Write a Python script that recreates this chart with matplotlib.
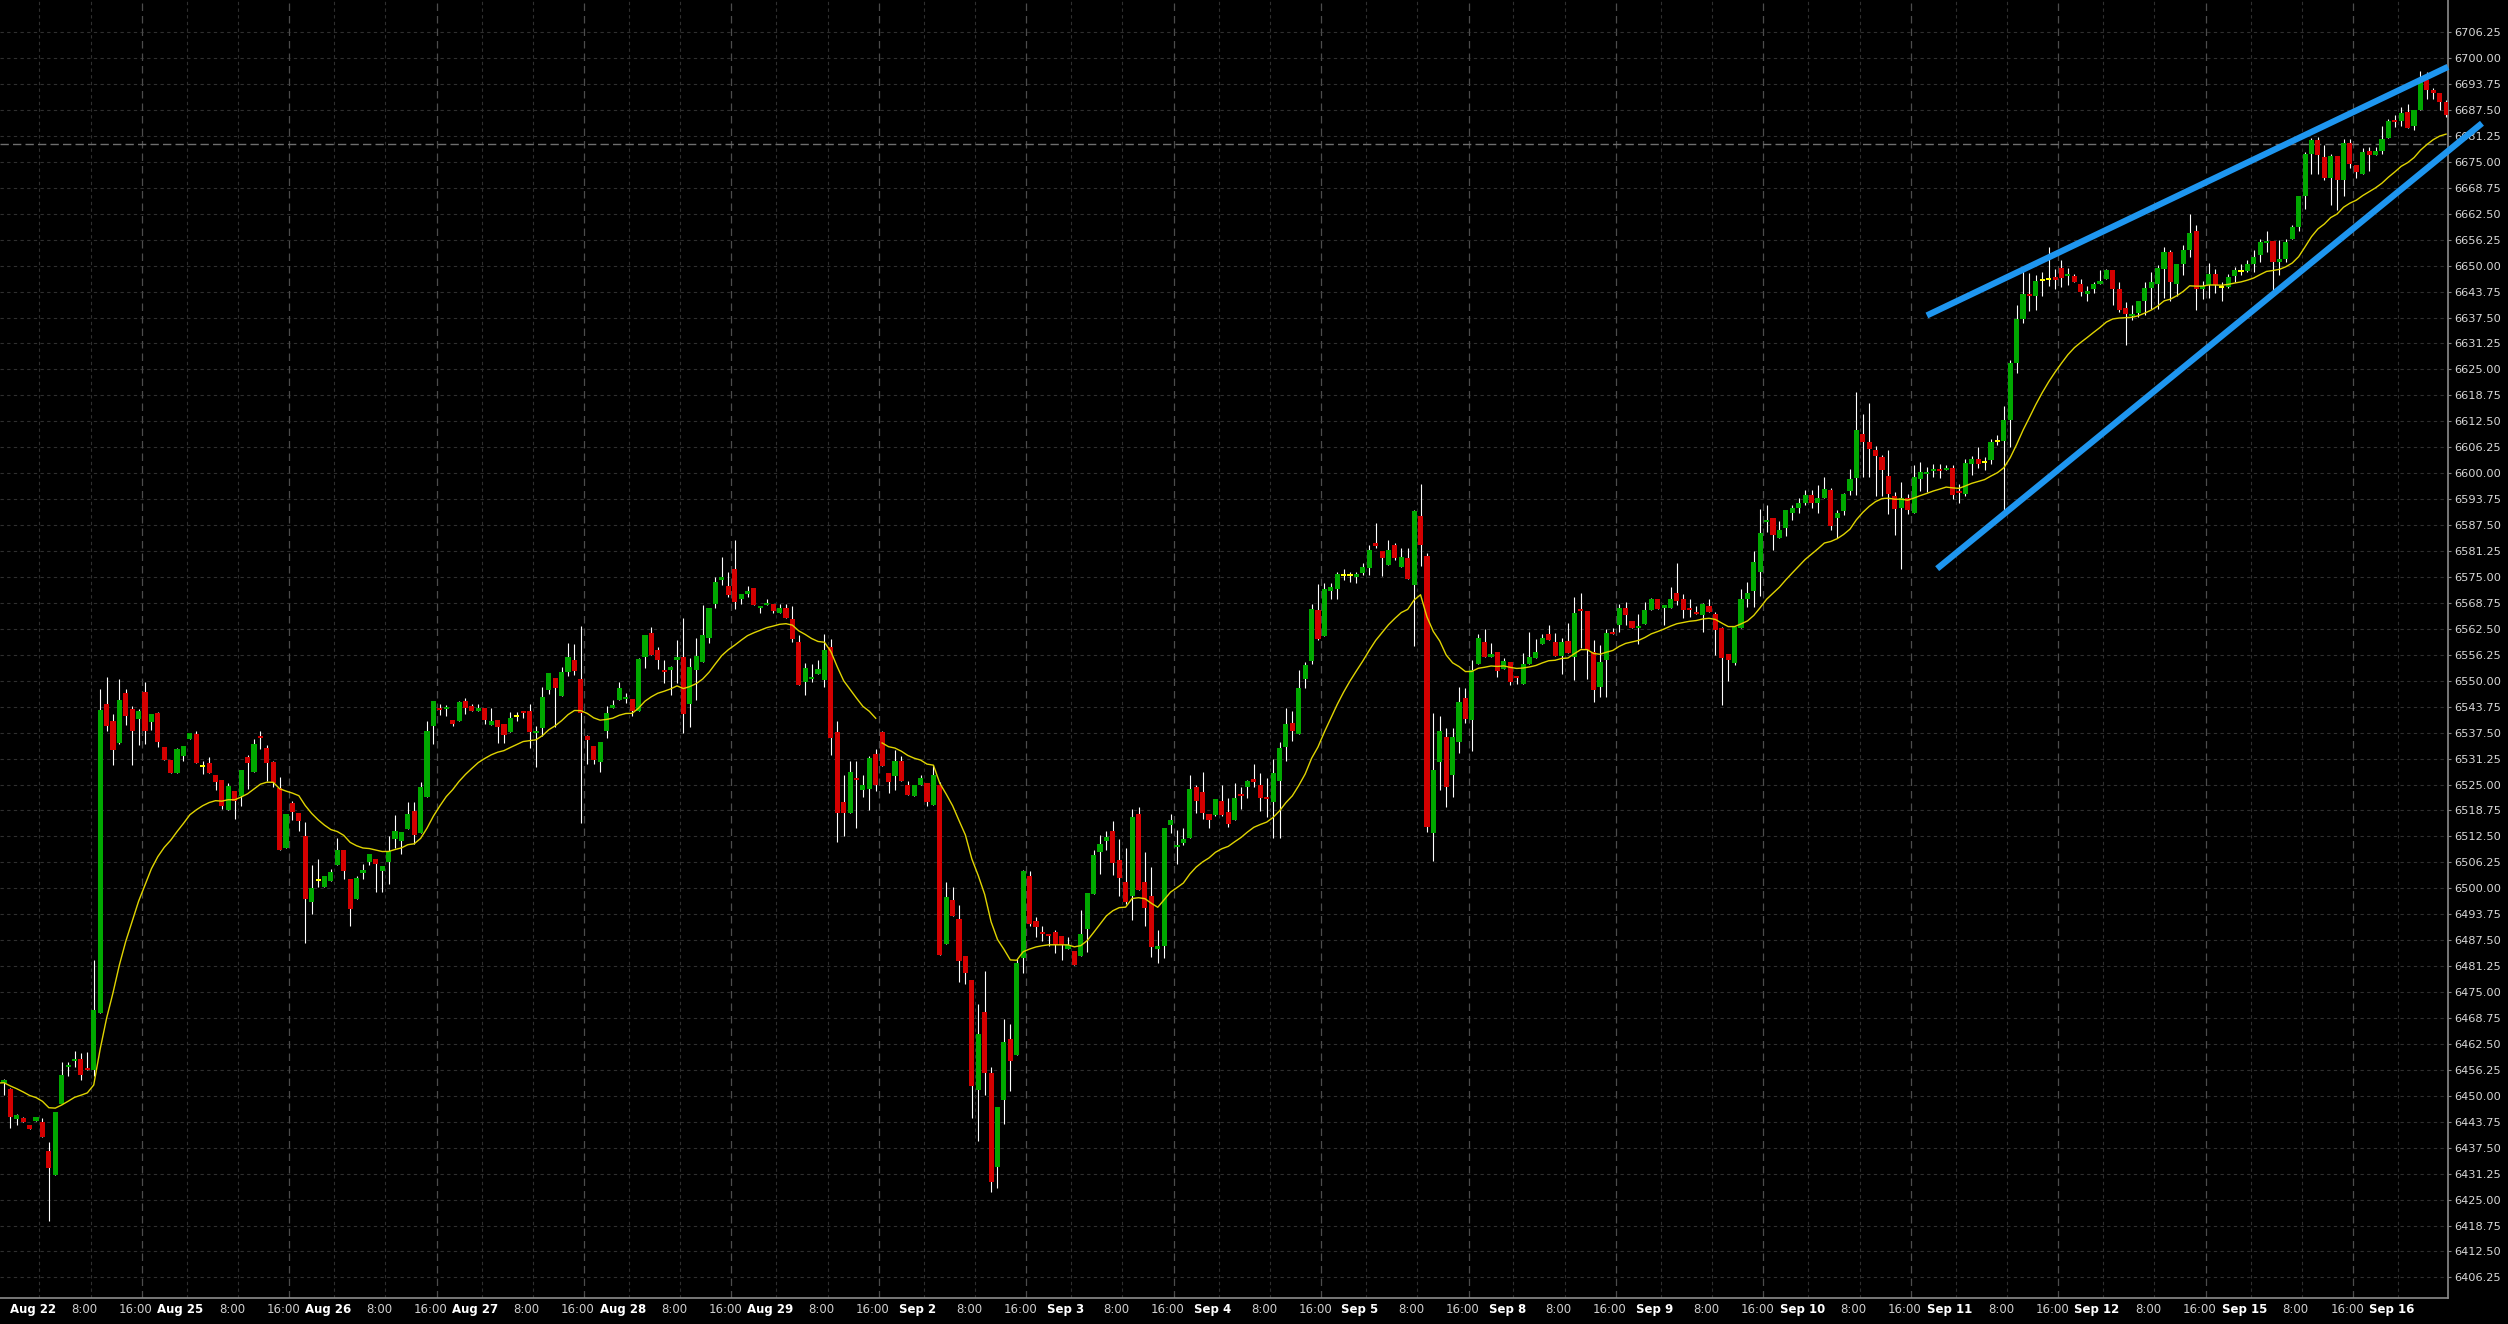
import numpy as np
import pandas as pd
import matplotlib
matplotlib.use("Agg")
import matplotlib.pyplot as plt
import matplotlib.transforms as mtransforms

# Hourly candles, Aug 21 (last bars) .. Sep 16
days = ["Aug 22", "Aug 25", "Aug 26", "Aug 27", "Aug 28", "Aug 29", "Sep 2", "Sep 3",
        "Sep 4", "Sep 5", "Sep 8", "Sep 9", "Sep 10", "Sep 11", "Sep 12", "Sep 15", "Sep 16"]
hour_labels = ["8:00", "16:00"]

opens = [
    6444.5, 6453.0, 6451.7, 6444.5, 6444.7, 6442.9, 6444.0, 6443.8, 6436.7, 6431.0,
    6448.0, 6456.9, 6458.3, 6458.9, 6456.5, 6456.1, 6469.9, 6544.5, 6540.4, 6535.0,
    6547.1, 6543.3, 6540.7, 6547.4, 6540.0, 6542.3, 6534.1, 6531.0, 6527.8, 6531.9,
    6535.9, 6537.2, 6529.4, 6530.3, 6527.4, 6526.2, 6518.8, 6523.5, 6522.3, 6531.7,
    6528.1, 6536.7, 6533.9, 6530.4, 6524.1, 6509.6, 6520.6, 6518.2, 6512.7, 6496.6,
    6501.9, 6500.4, 6501.8, 6505.7, 6509.2, 6502.2, 6497.4, 6503.7, 6506.3, 6507.1,
    6504.1, 6506.4, 6511.8, 6511.4, 6514.3, 6518.5, 6513.3, 6521.9, 6539.2, 6543.4,
    6543.2, 6540.6, 6540.3, 6545.0, 6544.0, 6542.7, 6543.4, 6539.4, 6540.6, 6539.5,
    6537.6, 6541.4, 6542.6, 6542.6, 6537.3, 6538.7, 6547.8, 6550.7, 6546.3, 6552.2,
    6555.0, 6550.3, 6536.8, 6534.3, 6530.4, 6538.0, 6543.4, 6545.4, 6545.6, 6545.6,
    6542.6, 6555.6, 6561.5, 6557.3, 6552.6, 6552.5, 6555.0, 6555.6, 6544.4, 6552.6,
    6554.5, 6560.3, 6568.5, 6574.3, 6572.9, 6576.8, 6569.7, 6571.0, 6572.4, 6567.6,
    6568.2, 6568.4, 6566.2, 6567.6, 6564.8, 6559.3, 6549.8, 6550.4, 6551.6, 6550.1,
    6558.1, 6537.6, 6520.9, 6518.1, 6526.5, 6523.6, 6523.9, 6532.3, 6537.7, 6527.7,
    6527.0, 6530.6, 6525.0, 6522.2, 6525.0, 6525.3, 6520.1, 6525.0, 6486.6, 6497.1,
    6492.5, 6483.8, 6478.0, 6451.4, 6470.1, 6455.5, 6432.9, 6449.0, 6463.6, 6459.8,
    6483.1, 6503.0, 6492.0, 6489.4, 6489.0, 6489.4, 6488.4, 6485.3, 6484.9, 6483.7,
    6490.2, 6498.6, 6508.7, 6511.3, 6513.8, 6506.9, 6501.5, 6498.1, 6518.0, 6501.5,
    6498.1, 6485.3, 6486.1, 6515.3, 6510.0, 6510.9, 6512.1, 6524.4, 6523.2, 6517.8,
    6517.7, 6521.1, 6518.3, 6516.5, 6522.7, 6524.4, 6526.3, 6524.9, 6521.9, 6520.9,
    6525.9, 6534.1, 6539.7, 6537.1, 6550.3, 6554.8, 6567.0, 6560.8, 6571.6, 6572.1,
    6575.5, 6575.5, 6575.0, 6575.9, 6577.1, 6583.1, 6581.2, 6578.0, 6582.6, 6577.3,
    6579.5, 6573.1, 6589.8, 6580.0, 6513.4, 6530.4, 6536.4, 6527.3, 6535.3, 6545.8,
    6540.6, 6554.0, 6559.4, 6555.6, 6557.0, 6552.8, 6554.6, 6551.0, 6549.2, 6554.0,
    6555.4, 6558.8, 6561.2, 6559.4, 6556.0, 6559.6, 6555.7, 6567.1, 6566.7, 6557.0,
    6548.6, 6554.9, 6561.6, 6563.4, 6567.6, 6564.5, 6562.7, 6563.6, 6567.0, 6569.6,
    6567.6, 6567.6, 6571.2, 6569.6, 6567.4, 6566.6, 6565.8, 6568.0, 6566.0, 6562.6,
    6556.5, 6554.3, 6562.6, 6569.8, 6571.6, 6576.2, 6588.3, 6589.3, 6584.3, 6586.7,
    6590.5, 6591.7, 6592.9, 6594.7, 6592.9, 6594.1, 6596.0, 6589.1, 6590.8, 6595.6,
    6598.9, 6609.5, 6607.5, 6605.7, 6604.0, 6599.3, 6594.5, 6591.6, 6594.0, 6590.5,
    6598.7, 6599.7, 6600.5, 6600.9, 6600.7, 6601.3, 6595.6, 6594.9, 6602.3, 6603.5,
    6602.7, 6603.1, 6607.7, 6607.7, 6612.7, 6626.6, 6637.2, 6643.2, 6642.6, 6646.5,
    6646.7, 6647.3, 6649.4, 6647.4, 6647.5, 6645.6, 6643.1, 6644.3, 6645.7, 6646.7,
    6648.9, 6644.3, 6639.9, 6637.9, 6638.7, 6641.6, 6644.7, 6645.6, 6649.1, 6653.3,
    6645.6, 6650.5, 6653.8, 6658.4, 6644.3, 6645.4, 6648.1, 6644.8, 6644.9, 6647.4,
    6648.7, 6648.7, 6650.5, 6652.5, 6655.5, 6655.9, 6650.9, 6651.7, 6656.4, 6659.2,
    6666.7, 6677.0, 6680.3, 6676.2, 6671.2, 6676.4, 6670.6, 6679.6, 6674.3, 6672.2,
    6677.7, 6676.6, 6677.7, 6680.8, 6684.9, 6684.8, 6687.0, 6683.6, 6687.6, 6694.8,
    6692.2, 6691.7, 6689.4,
]
highs = [
    6454.0, 6454.0, 6452.0, 6445.6, 6445.0, 6443.0, 6445.0, 6444.6, 6438.8, 6446.1,
    6458.1, 6458.1, 6460.7, 6460.2, 6460.5, 6482.8, 6548.0, 6551.0, 6542.0, 6550.5,
    6548.0, 6544.0, 6543.1, 6549.8, 6542.1, 6542.5, 6534.1, 6531.0, 6533.8, 6534.3,
    6537.5, 6538.0, 6530.7, 6531.7, 6527.4, 6526.2, 6525.3, 6523.5, 6528.4, 6532.0,
    6535.9, 6538.0, 6534.5, 6530.7, 6526.9, 6517.9, 6521.0, 6518.2, 6515.9, 6505.5,
    6507.1, 6502.9, 6504.6, 6512.2, 6509.2, 6502.2, 6503.0, 6505.9, 6508.3, 6507.1,
    6505.4, 6512.7, 6517.7, 6513.5, 6520.7, 6520.7, 6525.7, 6540.2, 6545.0, 6544.5,
    6544.2, 6540.6, 6545.1, 6545.8, 6544.3, 6544.3, 6543.4, 6543.4, 6540.6, 6539.5,
    6542.4, 6542.4, 6542.6, 6544.5, 6539.0, 6548.6, 6551.8, 6550.7, 6553.2, 6559.0,
    6558.8, 6563.2, 6537.0, 6534.3, 6535.2, 6544.0, 6545.3, 6549.6, 6547.0, 6545.6,
    6555.4, 6560.9, 6563.0, 6558.2, 6555.0, 6553.6, 6559.8, 6565.2, 6555.4, 6560.4,
    6568.2, 6567.6, 6575.1, 6579.9, 6576.1, 6583.8, 6571.0, 6572.9, 6572.4, 6568.0,
    6569.8, 6568.4, 6568.4, 6568.5, 6567.9, 6561.0, 6554.2, 6554.0, 6554.9, 6561.2,
    6560.0, 6540.3, 6527.2, 6530.6, 6530.6, 6527.2, 6531.8, 6533.6, 6538.0, 6527.7,
    6533.4, 6531.9, 6525.8, 6525.0, 6527.2, 6525.3, 6529.7, 6525.5, 6501.6, 6500.3,
    6495.9, 6483.8, 6478.0, 6472.0, 6480.0, 6457.0, 6447.2, 6468.4, 6467.2, 6482.9,
    6504.5, 6504.2, 6493.0, 6491.0, 6489.0, 6490.0, 6488.4, 6488.2, 6484.9, 6494.7,
    6498.9, 6509.3, 6512.8, 6513.8, 6516.2, 6511.8, 6509.6, 6519.2, 6519.6, 6508.7,
    6505.2, 6490.0, 6514.6, 6518.0, 6514.1, 6514.5, 6527.3, 6524.9, 6528.0, 6517.8,
    6521.5, 6524.9, 6521.7, 6525.3, 6524.5, 6526.0, 6529.9, 6527.8, 6526.5, 6531.1,
    6535.3, 6543.4, 6542.6, 6552.6, 6554.6, 6568.6, 6573.2, 6573.5, 6573.5, 6576.3,
    6576.9, 6576.3, 6576.3, 6578.3, 6582.7, 6588.1, 6581.2, 6583.9, 6583.1, 6581.9,
    6581.9, 6591.1, 6597.3, 6580.7, 6542.2, 6541.4, 6538.5, 6538.5, 6548.4, 6548.2,
    6555.0, 6561.2, 6562.5, 6559.2, 6557.0, 6555.5, 6554.6, 6551.0, 6556.6, 6561.8,
    6560.0, 6561.3, 6563.4, 6561.6, 6560.2, 6563.8, 6570.2, 6571.2, 6566.7, 6559.8,
    6558.6, 6562.4, 6562.7, 6568.6, 6569.0, 6564.5, 6566.0, 6569.0, 6570.0, 6569.6,
    6568.2, 6572.5, 6578.3, 6571.0, 6569.6, 6568.0, 6568.8, 6569.8, 6566.6, 6563.0,
    6556.5, 6563.0, 6572.0, 6573.8, 6581.2, 6591.3, 6592.4, 6589.3, 6588.4, 6591.1,
    6592.4, 6594.0, 6595.9, 6595.9, 6597.1, 6599.1, 6596.4, 6591.1, 6595.3, 6600.9,
    6619.6, 6614.3, 6617.0, 6606.5, 6604.5, 6605.7, 6595.5, 6597.9, 6595.1, 6601.9,
    6602.7, 6601.5, 6602.3, 6602.3, 6601.9, 6601.9, 6597.5, 6603.5, 6604.2, 6606.3,
    6603.8, 6608.3, 6609.3, 6616.2, 6627.2, 6640.6, 6648.6, 6648.3, 6647.8, 6648.5,
    6654.5, 6649.1, 6651.3, 6649.4, 6648.1, 6646.9, 6645.1, 6646.1, 6648.9, 6649.3,
    6648.9, 6646.1, 6641.2, 6640.6, 6641.6, 6646.1, 6648.5, 6650.1, 6654.5, 6653.7,
    6650.5, 6654.9, 6662.5, 6659.9, 6646.4, 6650.7, 6649.3, 6646.1, 6648.1, 6649.7,
    6650.5, 6651.3, 6653.7, 6656.4, 6658.4, 6655.9, 6656.1, 6656.4, 6659.7, 6666.9,
    6677.4, 6680.8, 6681.0, 6679.1, 6677.0, 6676.4, 6680.4, 6680.4, 6674.3, 6678.3,
    6678.7, 6678.6, 6683.6, 6685.4, 6686.2, 6688.2, 6689.0, 6687.6, 6696.9, 6696.6,
    6692.8, 6691.7, 6689.8,
]
lows = [
    6444.0, 6450.3, 6442.3, 6442.9, 6443.6, 6442.0, 6444.0, 6440.1, 6419.9, 6431.0,
    6448.0, 6454.7, 6457.0, 6453.8, 6456.1, 6454.7, 6469.9, 6537.8, 6529.7, 6534.7,
    6539.4, 6529.8, 6534.4, 6534.7, 6538.1, 6534.1, 6531.0, 6527.8, 6527.8, 6530.7,
    6535.9, 6530.1, 6527.6, 6527.8, 6523.7, 6519.0, 6518.8, 6516.7, 6519.8, 6524.0,
    6528.1, 6533.6, 6525.8, 6524.4, 6509.3, 6509.6, 6516.5, 6513.8, 6486.8, 6493.9,
    6500.4, 6500.4, 6501.8, 6505.7, 6502.2, 6491.0, 6497.4, 6502.2, 6505.5, 6499.2,
    6499.2, 6501.1, 6509.7, 6508.3, 6514.3, 6510.6, 6513.3, 6521.9, 6534.8, 6541.8,
    6541.6, 6539.2, 6540.3, 6542.1, 6542.7, 6542.7, 6539.5, 6539.4, 6534.9, 6534.9,
    6537.6, 6540.4, 6541.0, 6533.9, 6529.3, 6536.8, 6546.7, 6538.9, 6546.3, 6551.2,
    6551.3, 6515.8, 6530.0, 6530.0, 6528.1, 6536.1, 6543.4, 6545.4, 6544.6, 6541.4,
    6542.6, 6553.0, 6556.3, 6552.8, 6549.5, 6546.6, 6549.4, 6537.4, 6538.9, 6545.4,
    6554.5, 6559.2, 6567.6, 6573.1, 6570.1, 6567.4, 6568.4, 6570.1, 6568.2, 6566.3,
    6568.2, 6566.3, 6566.2, 6565.2, 6559.3, 6548.9, 6546.6, 6549.6, 6551.6, 6548.5,
    6532.0, 6511.1, 6512.7, 6518.1, 6514.5, 6521.9, 6518.9, 6523.5, 6529.5, 6523.0,
    6523.7, 6525.8, 6522.4, 6522.2, 6525.0, 6519.9, 6520.1, 6483.9, 6486.6, 6493.2,
    6477.3, 6477.0, 6444.6, 6439.0, 6450.2, 6426.8, 6427.8, 6443.3, 6451.2, 6459.8,
    6479.5, 6490.8, 6488.3, 6487.2, 6486.1, 6484.4, 6482.6, 6485.3, 6481.4, 6483.7,
    6484.6, 6498.6, 6503.5, 6509.3, 6503.2, 6498.1, 6496.3, 6492.3, 6499.6, 6491.0,
    6483.4, 6482.1, 6483.1, 6513.3, 6505.9, 6510.5, 6512.1, 6518.1, 6516.7, 6514.5,
    6517.3, 6517.3, 6514.7, 6516.5, 6519.1, 6521.7, 6524.5, 6518.5, 6517.1, 6512.0,
    6512.1, 6530.7, 6535.5, 6537.1, 6548.2, 6554.0, 6559.8, 6560.8, 6569.8, 6569.8,
    6574.3, 6573.7, 6573.5, 6575.5, 6575.5, 6581.9, 6575.2, 6578.0, 6579.2, 6577.3,
    6574.5, 6558.4, 6577.7, 6513.5, 6506.6, 6523.7, 6519.7, 6522.1, 6532.5, 6539.8,
    6533.1, 6554.0, 6555.6, 6555.6, 6550.8, 6552.8, 6549.0, 6549.2, 6549.2, 6554.0,
    6555.4, 6558.8, 6559.8, 6556.0, 6551.6, 6556.6, 6550.2, 6557.8, 6550.4, 6544.9,
    6546.1, 6546.1, 6561.3, 6561.8, 6563.4, 6562.7, 6558.8, 6563.6, 6567.0, 6567.2,
    6563.4, 6567.6, 6568.2, 6565.2, 6565.4, 6566.0, 6561.8, 6566.6, 6556.2, 6544.1,
    6550.0, 6553.8, 6562.6, 6567.8, 6567.8, 6570.5, 6585.9, 6581.6, 6584.3, 6584.8,
    6588.7, 6590.5, 6592.4, 6591.5, 6590.4, 6594.1, 6586.3, 6584.4, 6589.9, 6594.7,
    6594.7, 6599.1, 6599.1, 6594.5, 6594.5, 6590.2, 6585.1, 6577.0, 6590.1, 6590.5,
    6595.6, 6595.5, 6599.1, 6598.9, 6600.7, 6593.9, 6592.7, 6594.5, 6599.5, 6601.3,
    6600.7, 6602.2, 6606.7, 6590.7, 6606.3, 6624.1, 6636.2, 6639.0, 6639.2, 6642.8,
    6645.1, 6644.4, 6644.9, 6645.4, 6646.1, 6642.6, 6641.4, 6643.4, 6645.7, 6646.7,
    6640.4, 6638.8, 6631.0, 6636.8, 6637.6, 6638.0, 6639.6, 6639.6, 6642.2, 6641.6,
    6642.8, 6647.8, 6652.1, 6639.2, 6642.0, 6642.2, 6643.3, 6641.4, 6644.5, 6646.1,
    6647.8, 6648.5, 6648.5, 6650.9, 6653.3, 6643.7, 6647.7, 6650.9, 6656.4, 6658.3,
    6663.7, 6672.2, 6672.2, 6670.6, 6664.7, 6663.3, 6666.9, 6673.5, 6671.0, 6672.2,
    6672.7, 6676.6, 6677.0, 6680.8, 6683.4, 6683.6, 6683.2, 6682.6, 6687.6, 6690.2,
    6690.2, 6687.4, 6685.8,
]
closes = [
    6453.8, 6453.8, 6445.0, 6445.3, 6443.6, 6442.0, 6444.8, 6440.1, 6432.5, 6446.1,
    6455.0, 6457.2, 6458.6, 6455.0, 6456.1, 6470.7, 6543.0, 6539.2, 6533.2, 6545.4,
    6541.5, 6537.8, 6542.8, 6537.8, 6542.1, 6535.3, 6531.0, 6527.8, 6533.6, 6534.3,
    6537.5, 6530.1, 6529.4, 6527.8, 6525.5, 6519.9, 6524.7, 6521.0, 6528.4, 6530.1,
    6534.8, 6536.2, 6530.1, 6525.3, 6509.3, 6517.9, 6518.4, 6516.3, 6497.4, 6500.1,
    6501.9, 6502.9, 6504.0, 6509.2, 6504.1, 6495.0, 6502.5, 6504.5, 6508.3, 6505.9,
    6505.4, 6509.0, 6513.7, 6513.5, 6517.8, 6512.9, 6524.3, 6538.0, 6545.0, 6543.0,
    6543.5, 6539.6, 6544.8, 6543.4, 6542.7, 6543.5, 6540.6, 6540.4, 6538.8, 6536.9,
    6541.1, 6541.4, 6542.2, 6537.6, 6537.7, 6546.2, 6551.8, 6548.3, 6552.0, 6555.6,
    6552.4, 6542.3, 6535.8, 6531.0, 6535.2, 6542.3, 6544.1, 6548.2, 6546.1, 6542.6,
    6555.3, 6560.9, 6556.3, 6555.0, 6552.1, 6553.4, 6555.6, 6542.0, 6553.2, 6556.0,
    6560.9, 6567.6, 6573.7, 6574.9, 6570.6, 6569.0, 6571.0, 6571.4, 6568.2, 6568.0,
    6568.6, 6566.8, 6567.6, 6565.2, 6560.0, 6548.9, 6553.0, 6550.8, 6552.8, 6557.5,
    6536.1, 6518.1, 6518.1, 6527.9, 6526.0, 6525.0, 6531.3, 6525.0, 6529.5, 6525.5,
    6530.6, 6525.8, 6522.4, 6525.0, 6526.6, 6520.7, 6527.2, 6483.9, 6497.8, 6493.2,
    6482.4, 6479.6, 6452.4, 6465.0, 6455.5, 6429.3, 6447.2, 6462.9, 6458.3, 6481.9,
    6504.2, 6491.5, 6490.7, 6489.0, 6488.5, 6486.3, 6486.3, 6486.3, 6481.4, 6489.0,
    6498.9, 6508.0, 6510.6, 6512.3, 6506.2, 6502.4, 6496.6, 6517.2, 6499.6, 6495.3,
    6485.9, 6486.2, 6514.6, 6516.4, 6510.4, 6511.9, 6523.9, 6521.1, 6518.1, 6516.5,
    6521.5, 6517.7, 6515.5, 6521.7, 6522.2, 6525.9, 6525.6, 6521.7, 6521.5, 6527.7,
    6533.7, 6539.5, 6537.9, 6548.2, 6553.9, 6567.2, 6560.0, 6572.0, 6572.6, 6575.6,
    6575.5, 6575.5, 6575.6, 6577.3, 6581.6, 6582.4, 6579.5, 6581.6, 6579.6, 6579.7,
    6574.5, 6590.9, 6582.7, 6514.7, 6528.4, 6537.8, 6524.3, 6536.4, 6544.8, 6540.8,
    6552.5, 6560.2, 6555.6, 6556.5, 6552.4, 6554.8, 6549.8, 6550.6, 6554.0, 6555.8,
    6557.0, 6560.2, 6559.8, 6556.0, 6559.4, 6556.6, 6566.4, 6566.8, 6557.5, 6547.7,
    6554.6, 6561.6, 6561.3, 6567.6, 6565.8, 6562.7, 6563.2, 6567.1, 6569.6, 6567.2,
    6568.2, 6569.8, 6569.2, 6567.0, 6567.1, 6566.0, 6568.5, 6566.6, 6562.2, 6555.5,
    6555.1, 6563.0, 6569.8, 6571.2, 6578.5, 6585.5, 6588.8, 6585.1, 6586.2, 6591.1,
    6591.7, 6592.8, 6594.7, 6592.7, 6594.1, 6596.3, 6587.2, 6590.5, 6594.9, 6598.7,
    6610.3, 6607.4, 6605.8, 6604.1, 6600.7, 6594.9, 6591.3, 6594.0, 6591.1, 6599.0,
    6600.3, 6600.1, 6601.1, 6600.5, 6601.3, 6594.7, 6595.2, 6602.5, 6603.5, 6602.3,
    6602.7, 6607.5, 6607.7, 6612.7, 6626.6, 6637.2, 6643.2, 6642.6, 6646.3, 6646.5,
    6646.7, 6646.5, 6647.0, 6648.0, 6646.1, 6643.6, 6643.9, 6645.6, 6646.4, 6648.9,
    6644.3, 6639.4, 6638.3, 6638.4, 6641.6, 6644.7, 6646.1, 6649.4, 6653.3, 6646.1,
    6650.5, 6653.7, 6657.9, 6644.3, 6645.1, 6648.0, 6645.3, 6644.8, 6647.3, 6648.9,
    6648.7, 6650.5, 6652.1, 6655.6, 6655.9, 6650.9, 6651.7, 6655.7, 6659.2, 6666.7,
    6677.0, 6680.2, 6676.6, 6671.2, 6676.4, 6670.6, 6679.6, 6674.4, 6672.6, 6677.4,
    6676.6, 6677.7, 6680.6, 6684.9, 6684.6, 6686.8, 6683.2, 6687.6, 6694.6, 6692.2,
    6691.6, 6689.4, 6686.2,
]

# 20-period EMA, restarted after the Labor Day gap
ema_span = 20
ema_seeds = [6453.0, 6535.6]
ema_restart = 138

# hand-drawn channel lines (bar index, price)
upper_x = [301.0, 382.3]
upper_y = [6638.0, 6697.9]
lower_x = [302.6, 387.6]
lower_y = [6577.0, 6684.3]
ref_price = 6679.4

# session layout: first bar of Aug 22, bars per session, label offsets
first_day = 7
bars_per_day = 23
label_offsets = [0, 8, 16]

o = np.array(opens)
h = np.array(highs)
l = np.array(lows)
c = np.array(closes)
x = np.arange(len(c))


def ema(vals, seed):
    s = pd.Series([seed] + list(vals))
    return s.ewm(span=ema_span, adjust=False).mean().to_numpy()[1:]


fig = plt.figure(figsize=(25.08, 13.24), dpi=100, facecolor="black")
ax = fig.add_axes([0, 26 / 1324, 2448 / 2508, 1 - 26 / 1324])
ax.set_facecolor("black")
ax.set_xlim(0.376, 382.3)
ax.set_ylim(6401.29, 6714.0)

# grid
yt = np.arange(6406.25, 6706.26, 6.25)
for v in yt:
    ax.axhline(v, color="#2f2f2f", lw=0.8, ls=(0, (3, 3)), zorder=0)

trans = mtransforms.blended_transform_factory(ax.transData, ax.transAxes)
for d, name in enumerate(days):
    for k, off in enumerate(label_offsets):
        pos = first_day + bars_per_day * d + off
        gx = pos - 0.5
        if gx > ax.get_xlim()[1]:
            continue
        if k == 2:
            ax.axvline(gx, color="#4c4c4c", lw=0.9, ls=(0, (6, 4)), zorder=0)
        else:
            ax.axvline(gx, color="#2f2f2f", lw=0.8, ls=(0, (3, 3)), zorder=0)
        if k == 0:
            ax.text(pos - 1.45, -0.009, name, transform=trans, ha="center", va="center",
                    fontsize=8.5, fontweight="bold", color="white", clip_on=False)
        else:
            ax.text(pos - 1.45, -0.009, hour_labels[k - 1], transform=trans, ha="center",
                    va="center", fontsize=8.5, color="#d0d0d0", clip_on=False)

ax.axhline(ref_price, color="#6e6e6e", lw=1.0, ls=(0, (6, 3)), zorder=1)

# candles
ax.vlines(x, l, h, colors="white", lw=0.8, zorder=2)
colors = np.where(c > o, "#00a800", np.where(c < o, "#d40000", "#ffff00"))
body = np.maximum(np.abs(c - o), 0.5)
bottom = np.where(c == o, o - 0.25, np.minimum(o, c))
ax.bar(x, body, bottom=bottom, width=0.8, color=colors, linewidth=0, zorder=3)

# moving average
seg1 = ema(c[:ema_restart], ema_seeds[0])
seg2 = ema(c[ema_restart:], ema_seeds[1])
ax.plot(x[:ema_restart], seg1, color="#e0d400", lw=1.0, zorder=4)
ax.plot(x[ema_restart:], seg2, color="#e0d400", lw=1.0, zorder=4)

# channel
ax.plot(upper_x, upper_y, color="#1e96f0", lw=4.5, zorder=6, clip_on=False,
        solid_capstyle="butt")
ax.plot(lower_x, lower_y, color="#1e96f0", lw=4.5, zorder=6, clip_on=False,
        solid_capstyle="butt")

# axes styling
ax.set_xticks([])
ax.yaxis.tick_right()
ax.set_yticks(yt)
ax.set_yticklabels([f"{v:.2f}" for v in yt])
ax.tick_params(axis="y", length=2.5, width=0.8, color="#808080", pad=2,
               labelsize=8.2, labelcolor="#d8d8d8")
for side in ["top", "left"]:
    ax.spines[side].set_visible(False)
for side in ["right", "bottom"]:
    ax.spines[side].set_color("#8c8c8c")
    ax.spines[side].set_linewidth(1.2)

fig.savefig("out.png", dpi=100, facecolor="black")
plt.close(fig)
